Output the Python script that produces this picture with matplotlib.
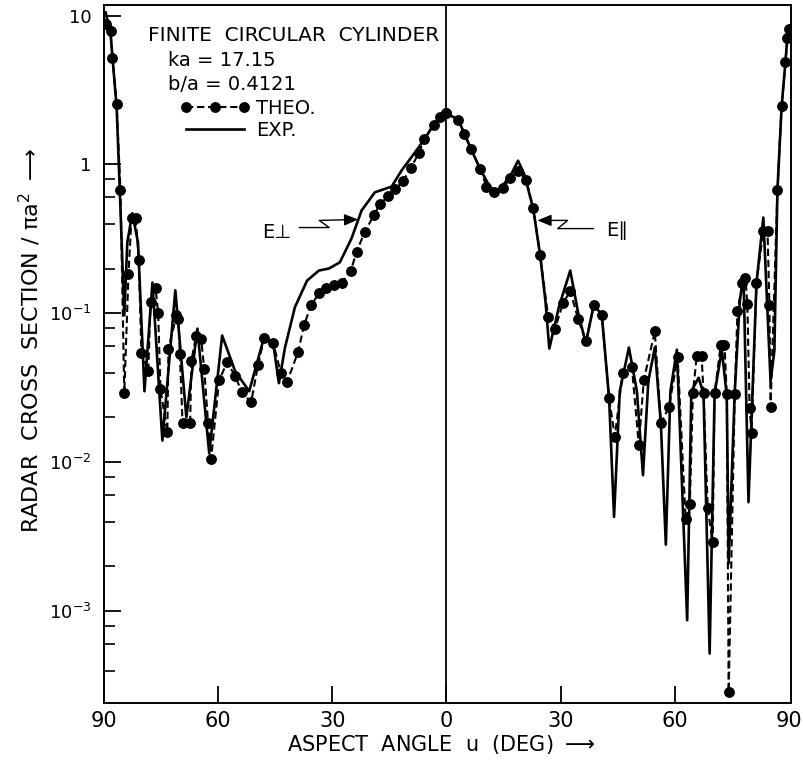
import matplotlib.pyplot as plt
from matplotlib.ticker import FixedLocator, NullFormatter
from matplotlib.patches import FancyArrowPatch
from matplotlib.path import Path

# E-perpendicular half (left), aspect angle given as negative u
theo_perp_u = [-89.3, -88.2, -87.7, -86.6, -85.6, -84.6, -83.5, -82.7, -81.6, -80.8,
               -80.1, -78.3, -77.7, -76.4, -75.7, -75.1, -73.3, -73.0, -70.9, -70.4,
               -70.0, -69.3, -67.3, -67.0, -65.7, -64.4, -63.6, -62.6, -61.8, -59.7,
               -57.6, -55.5, -53.7, -51.3, -49.5, -47.9, -45.5, -43.5, -41.9, -39.0,
               -37.4, -35.6, -33.5, -31.7, -29.6, -27.5, -25.1, -23.6, -21.5, -19.1,
               -17.5, -15.4, -13.4, -11.3, -9.4, -7.3, -5.8, -3.4, -1.8, 0]
theo_perp_v = [8.8, 7.9, 5.2, 2.53, 0.67, 0.029, 0.183, 0.44, 0.44, 0.23,
               0.054, 0.041, 0.12, 0.149, 0.10, 0.031, 0.0159, 0.058, 0.097, 0.092,
               0.053, 0.0183, 0.0183, 0.048, 0.071, 0.067, 0.042, 0.0183, 0.0106, 0.0355,
               0.047, 0.038, 0.0295, 0.0253, 0.0448, 0.068, 0.063, 0.040, 0.0344, 0.0547,
               0.083, 0.113, 0.136, 0.149, 0.154, 0.161, 0.194, 0.26, 0.35, 0.455,
               0.54, 0.61, 0.68, 0.78, 0.94, 1.19, 1.49, 1.85, 2.07, 2.2]

exp_perp_u = [-89.5, -88.2, -86.6, -85.6, -84.6, -83.8, -82.5, -81.0, -79.3, -77.2,
              -74.6, -71.2, -68.3, -65.4, -62.3, -58.9, -55.5, -51.8, -47.9, -45.5,
              -44.0, -42.4, -39.8, -36.6, -33.5, -30.9, -28.0, -24.9, -22.3, -18.8,
              -14.4, -11.8, -7.3, -3.1, 0]
exp_perp_v = [10.5, 7.5, 2.4, 0.5, 0.097, 0.3, 0.47, 0.3, 0.030, 0.161,
              0.014, 0.143, 0.020, 0.079, 0.0115, 0.071, 0.041, 0.030, 0.069, 0.063,
              0.034, 0.059, 0.110, 0.166, 0.194, 0.20, 0.22, 0.32, 0.49, 0.65,
              0.71, 0.91, 1.30, 1.88, 2.2]

# E-parallel half (right)
theo_par_u = [0, 3.1, 4.7, 6.5, 8.9, 10.5, 12.6, 14.9, 16.8, 18.8,
              20.9, 22.8, 24.6, 26.7, 28.5, 30.6, 32.5, 34.6, 36.6, 38.7,
              40.8, 42.7, 44.2, 46.3, 48.7, 50.5, 51.8, 54.7, 56.3, 58.4,
              60.7, 62.8, 63.9, 64.7, 65.7, 67.0, 67.5, 68.6, 69.9, 70.4,
              72.0, 73.0, 73.6, 74.1, 75.7, 76.4, 77.7, 78.5, 79.0, 79.6,
              80.1, 81.4, 83.2, 84.3, 84.8, 85.1, 86.9, 88.0, 89.0, 89.5, 90.0]
theo_par_v = [2.2, 2.0, 1.61, 1.26, 0.925, 0.71, 0.65, 0.70, 0.81, 0.90,
              0.79, 0.51, 0.245, 0.095, 0.079, 0.117, 0.141, 0.091, 0.065, 0.113,
              0.097, 0.0269, 0.0149, 0.040, 0.0434, 0.0130, 0.0355, 0.0757, 0.0183, 0.0234,
              0.0507, 0.00414, 0.00522, 0.029, 0.0514, 0.0514, 0.029, 0.0049, 0.0029, 0.029,
              0.061, 0.061, 0.0286, 0.000286, 0.0286, 0.103, 0.159, 0.174, 0.115, 0.023,
              0.0157, 0.161, 0.36, 0.36, 0.113, 0.0234, 0.67, 2.45, 4.84, 7.1, 8.06]

exp_par_u = [0, 3.1, 6.5, 8.9, 11.5, 13.5, 16.8, 18.8, 20.5, 22.8,
             24.6, 26.0, 27.0, 29.5, 32.5, 34.6, 36.6, 38.7, 40.8, 42.7,
             44.0, 45.5, 47.9, 50.0, 51.6, 53.0, 54.7, 56.3, 57.6, 58.8,
             60.5, 63.2, 64.3, 66.2, 67.5, 69.1, 70.4, 72.3, 73.6, 74.1,
             75.7, 77.0, 78.0, 79.3, 81.4, 83.2, 85.1, 86.1, 86.9, 88.0,
             89.0, 89.5, 90.0]
exp_par_v = [2.2, 2.0, 1.26, 0.925, 0.7, 0.66, 0.84, 1.06, 0.85, 0.5,
             0.245, 0.12, 0.058, 0.11, 0.194, 0.10, 0.063, 0.115, 0.097, 0.027,
             0.0043, 0.03, 0.059, 0.03, 0.0082, 0.035, 0.059, 0.018, 0.0028, 0.03,
             0.057, 0.00087, 0.03, 0.037, 0.029, 0.00052, 0.029, 0.057, 0.028, 0.0021,
             0.03, 0.12, 0.18, 0.0054, 0.16, 0.44, 0.035, 0.056, 0.67, 2.45,
             4.84, 7.1, 8.06]

xticks = [-90, -60, -30, 0, 30, 60, 90]
xticklabels = ['90', '60', '30', '0', '30', '60', '90']
yticks = [1e-3, 1e-2, 1e-1, 1, 10]
yticklabels = ['10$^{-3}$', '10$^{-2}$', '10$^{-1}$', '1', '10']

plt.rcParams['font.family'] = 'DejaVu Sans'
plt.rcParams['mathtext.default'] = 'regular'

fig = plt.figure(figsize=(8.04, 7.65), dpi=100)
ax = fig.add_axes([0.129, 0.081, 0.855, 0.912])

theo_style = dict(color='black', lw=1.5, ls=(0, (3.5, 1.8)), marker='o', ms=6.8)
exp_style = dict(color='black', lw=1.9, solid_joinstyle='round')

ax.plot(exp_perp_u, exp_perp_v, **exp_style)
exp_line, = ax.plot(exp_par_u, exp_par_v, **exp_style)
theo_line, = ax.plot(theo_perp_u, theo_perp_v, **theo_style)
ax.plot(theo_par_u, theo_par_v, **theo_style)

ax.axvline(0, color='black', lw=1.3)

ax.set_yscale('log')
ax.set_xlim(-90, 90.5)
ax.set_ylim(2.42e-4, 11.7)

ax.set_xticks(xticks)
ax.set_xticklabels(xticklabels, fontsize=15)
ax.set_yticks(yticks)
ax.set_yticklabels(yticklabels, fontsize=13)
minor = [m * 10.0 ** k for k in range(-4, 0) for m in (2, 4, 6, 8)]
ax.yaxis.set_minor_locator(FixedLocator(minor))
ax.yaxis.set_minor_formatter(NullFormatter())
ax.tick_params(axis='both', which='major', direction='in', length=12, width=1.3,
               top=False, right=False)
ax.tick_params(axis='y', which='minor', direction='in', length=8, width=1.2, right=False)
ax.tick_params(axis='y', which='major', pad=9)
ax.tick_params(axis='x', which='major', pad=6)
xt = ax.xaxis.get_major_ticks()
xt[0].tick1line.set_visible(False)
xt[-1].tick1line.set_visible(False)
for s in ax.spines.values():
    s.set_linewidth(1.4)

ax.set_xlabel('ASPECT  ANGLE  u  (DEG) $\\longrightarrow$', fontsize=15, va='center')
ax.xaxis.set_label_coords(0.49, -0.06)
ax.set_ylabel('RADAR  CROSS  SECTION / $\\pi a^2$ $\\longrightarrow$', fontsize=16,
              va='center')
ax.yaxis.set_label_coords(-0.107, 0.52)

ax.text(0.064, 0.957, 'FINITE  CIRCULAR  CYLINDER', transform=ax.transAxes,
        fontsize=14.5, va='center', ha='left')
ax.text(0.093, 0.921, 'ka = 17.15', transform=ax.transAxes,
        fontsize=14, va='center', ha='left')
ax.text(0.093, 0.887, 'b/a = 0.4121', transform=ax.transAxes,
        fontsize=14, va='center', ha='left')

ax.legend([theo_line, exp_line], ['THEO.', 'EXP.'], loc='upper left',
          bbox_to_anchor=(0.111, 0.866), frameon=False, numpoints=3,
          handlelength=3.6, handletextpad=0.3, labelspacing=0.15,
          borderpad=0, borderaxespad=0, fontsize=14)

# zig-zag pointer arrows for the two polarisations
perp_arrow_u = [-38.7, -30.8, -33.4, -23.2]
perp_arrow_v = [0.377, 0.377, 0.421, 0.427]
par_arrow_u = [38.6, 29.2, 31.8, 23.9]
par_arrow_v = [0.371, 0.371, 0.421, 0.421]
for au, av in [(perp_arrow_u, perp_arrow_v), (par_arrow_u, par_arrow_v)]:
    ax.add_patch(FancyArrowPatch(path=Path(list(zip(au, av))),
                                 arrowstyle='-|>,head_length=0.6,head_width=0.25',
                                 mutation_scale=14, color='black', lw=1.0))
ax.text(-40.8, 0.35, 'E\u22a5', fontsize=14, ha='right', va='center')
ax.text(41.8, 0.36, 'E\u2225', fontsize=14, ha='left', va='center')

fig.savefig('out.png', dpi=100)
